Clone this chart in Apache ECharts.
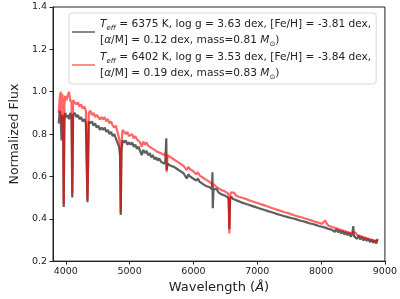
<!DOCTYPE html>
<html>
<head>
<meta charset="utf-8">
<script src="https://cdn.jsdelivr.net/npm/echarts@6/dist/echarts.min.js"></script>
<style>
  html, body { margin: 0; padding: 0; background: #fff; }
  #chart { width: 400px; height: 299px; }
</style>
</head>
<body>
<div id="chart"></div>
<script>
// wavelength grid (Angstrom), shared by both spectra
var wavelength = [
  3890, 3905, 3920, 3934, 3945, 3958, 3968, 3978, 3990,
  4010, 4030, 4050, 4070, 4090, 4102, 4115, 4140, 4165, 4190, 4215, 4240, 4265, 4290, 4315, 4340, 4360, 4385, 4410, 4435, 4460, 4485,
  4510, 4535, 4560, 4585, 4610, 4635, 4660, 4685, 4710, 4735, 4760, 4785, 4810, 4835, 4850, 4861, 4872, 4890, 4915, 4940, 4965, 4990,
  5015, 5040, 5065, 5090, 5115, 5140, 5165, 5190, 5215, 5240, 5265, 5290, 5315, 5340, 5365, 5390, 5415, 5440, 5465, 5490,
  5515, 5540, 5560, 5575, 5580, 5595, 5620, 5645, 5670, 5695, 5720, 5745, 5770, 5795, 5820, 5845, 5870, 5895, 5920, 5945, 5970, 5995,
  6020, 6045, 6070, 6095, 6120, 6145, 6170, 6195, 6220, 6245, 6270, 6290, 6298, 6303, 6315, 6340, 6365, 6390, 6415, 6440, 6465, 6490, 6515, 6540, 6552, 6563, 6574, 6590,
  6615, 6640, 6665, 6690, 6715, 6740, 6765, 6790, 6815, 6840, 6865, 6890, 6915, 6940, 6965, 6990, 7015, 7040, 7065, 7090, 7115, 7140, 7165, 7190, 7215, 7240, 7265, 7290, 7315, 7340, 7365, 7390, 7415, 7440, 7465, 7490,
  7515, 7540, 7565, 7590, 7615, 7640, 7665, 7690, 7715, 7740, 7765, 7790, 7815, 7840, 7865, 7890, 7915, 7940, 7965, 7990,
  8015, 8040, 8065, 8090, 8115, 8140, 8165, 8190, 8215, 8240, 8265, 8290, 8315, 8340, 8365, 8390, 8415, 8440, 8465, 8490,
  8505, 8515, 8540, 8565, 8590, 8615, 8640, 8665, 8690, 8715, 8740, 8765, 8790, 8815, 8840, 8865, 8885
];

// Teff = 6375 K spectrum (grey)
var fluxGrey = [
  0.85, 0.91, 0.88, 0.77, 0.89, 0.86, 0.455, 0.86, 0.90,
  0.88, 0.89, 0.87, 0.90, 0.88, 0.50, 0.89, 0.90, 0.88, 0.89, 0.87, 0.88, 0.86, 0.87, 0.85, 0.478, 0.86, 0.85, 0.86, 0.84, 0.85, 0.83,
  0.84, 0.82, 0.83, 0.82, 0.83, 0.81, 0.82, 0.80, 0.81, 0.79, 0.80, 0.78, 0.76, 0.74, 0.70, 0.418, 0.72, 0.77, 0.76, 0.77, 0.75, 0.76,
  0.75, 0.76, 0.74, 0.75, 0.73, 0.74, 0.72, 0.70, 0.725, 0.71, 0.72, 0.70, 0.71, 0.69, 0.70, 0.68, 0.69, 0.675, 0.685, 0.67,
  0.675, 0.66, 0.67, 0.78, 0.63, 0.66, 0.665, 0.65, 0.655, 0.645, 0.65, 0.635, 0.64, 0.625, 0.63, 0.615, 0.62, 0.59, 0.61, 0.60, 0.605, 0.59,
  0.595, 0.58, 0.59, 0.575, 0.58, 0.565, 0.57, 0.555, 0.56, 0.55, 0.555, 0.54, 0.62, 0.45, 0.54, 0.535, 0.54, 0.525, 0.53, 0.515, 0.52, 0.51, 0.515, 0.50, 0.49, 0.35, 0.49, 0.505,
  0.495, 0.50, 0.488, 0.493, 0.482, 0.488, 0.476, 0.483, 0.471, 0.478, 0.466, 0.472, 0.461, 0.467, 0.456, 0.462, 0.451, 0.457, 0.446, 0.452, 0.441, 0.447, 0.436, 0.442, 0.432, 0.437, 0.427, 0.433, 0.422, 0.428, 0.418, 0.423, 0.413, 0.419, 0.409, 0.414,
  0.405, 0.412, 0.401, 0.407, 0.397, 0.403, 0.392, 0.399, 0.388, 0.394, 0.384, 0.39, 0.379, 0.386, 0.375, 0.381, 0.371, 0.377, 0.366, 0.372,
  0.362, 0.368, 0.358, 0.364, 0.352, 0.36, 0.349, 0.355, 0.338, 0.352, 0.336, 0.346, 0.33, 0.343, 0.325, 0.338, 0.322, 0.335, 0.315, 0.33,
  0.365, 0.318, 0.326, 0.305, 0.322, 0.302, 0.316, 0.297, 0.31, 0.295, 0.306, 0.29, 0.302, 0.286, 0.298, 0.283, 0.305
];

// Teff = 6402 K spectrum (red)
var fluxRed = [
  0.90, 0.97, 1.00, 0.85, 0.99, 0.95, 0.47, 0.93, 0.98,
  0.96, 0.98, 1.00, 0.96, 0.95, 0.52, 0.96, 0.95, 0.94, 0.95, 0.93, 0.94, 0.92, 0.93, 0.91, 0.49, 0.90, 0.91, 0.89, 0.90, 0.88, 0.89,
  0.89, 0.87, 0.88, 0.87, 0.88, 0.86, 0.87, 0.85, 0.86, 0.84, 0.83, 0.84, 0.81, 0.78, 0.74, 0.43, 0.76, 0.82, 0.81, 0.80, 0.81, 0.79,
  0.79, 0.80, 0.78, 0.79, 0.775, 0.78, 0.76, 0.74, 0.765, 0.75, 0.76, 0.745, 0.75, 0.735, 0.74, 0.725, 0.73, 0.715, 0.72, 0.71,
  0.715, 0.70, 0.71, 0.70, 0.62, 0.70, 0.705, 0.69, 0.695, 0.68, 0.685, 0.67, 0.675, 0.66, 0.665, 0.65, 0.655, 0.63, 0.645, 0.635, 0.64, 0.625,
  0.625, 0.61, 0.62, 0.605, 0.61, 0.595, 0.60, 0.585, 0.59, 0.575, 0.58, 0.565, 0.57, 0.55, 0.565, 0.555, 0.56, 0.545, 0.55, 0.535, 0.54, 0.53, 0.535, 0.52, 0.51, 0.33, 0.51, 0.525,
  0.518, 0.522, 0.51, 0.516, 0.503, 0.51, 0.499, 0.505, 0.494, 0.50, 0.488, 0.494, 0.483, 0.49, 0.478, 0.484, 0.473, 0.479, 0.468, 0.474, 0.463, 0.469, 0.458, 0.464, 0.452, 0.458, 0.447, 0.453, 0.442, 0.448, 0.437, 0.443, 0.432, 0.438, 0.428, 0.433,
  0.423, 0.43, 0.418, 0.425, 0.413, 0.42, 0.409, 0.416, 0.405, 0.41, 0.40, 0.406, 0.395, 0.401, 0.39, 0.396, 0.385, 0.391, 0.381, 0.387,
  0.376, 0.382, 0.392, 0.377, 0.367, 0.373, 0.362, 0.368, 0.357, 0.363, 0.352, 0.358, 0.347, 0.353, 0.342, 0.348, 0.337, 0.343, 0.332, 0.338,
  0.336, 0.328, 0.334, 0.323, 0.329, 0.318, 0.324, 0.313, 0.319, 0.308, 0.314, 0.303, 0.309, 0.299, 0.305, 0.294, 0.30
];

var xTicks = [4000, 5000, 6000, 7000, 8000, 9000];

var labelGrey = '{i|T}{sub|eff} = 6375 K, log g = 3.63 dex, [Fe/H] = -3.81 dex,\n[{i|α}/M] = 0.12 dex, mass=0.81 {i|M}{sub|⊙})';
var labelRed = '{i|T}{sub|eff} = 6402 K, log g = 3.53 dex, [Fe/H] = -3.84 dex,\n[{i|α}/M] = 0.19 dex, mass=0.83 {i|M}{sub|⊙})';

function pairs(ys) {
  var out = [];
  for (var i = 0; i < wavelength.length; i++) {
    out.push([wavelength[i], ys[i]]);
  }
  return out;
}

var font = 'DejaVu Sans';
var chart = echarts.init(document.getElementById('chart'), null, {renderer: 'canvas'});

var option = {
  animation: false,
  grid: {
    left: 42, right: 15, top: 7, bottom: 36,
    show: true, borderColor: '#222', borderWidth: 1, backgroundColor: 'transparent'
  },
  legend: {
    left: 69, top: 13,
    orient: 'vertical',
    itemWidth: 23, itemHeight: 1.5,
    itemGap: 1,
    padding: [3, 5, 3, 3],
    backgroundColor: '#fff',
    borderColor: '#d8d8d8', borderWidth: 1, borderRadius: 3,
    icon: 'rect',
    selectedMode: false,
    data: ['grey', 'red'],
    formatter: function (name) {
      return name === 'grey' ? labelGrey : labelRed;
    },
    textStyle: {
      fontFamily: font, fontSize: 10.6, color: '#222', lineHeight: 16,
      rich: {
        i: {fontFamily: font, fontSize: 10.6, fontStyle: 'italic', color: '#222', lineHeight: 16},
        sub: {fontFamily: font, fontSize: 7, fontStyle: 'italic', color: '#222', lineHeight: 9, verticalAlign: 'bottom'}
      }
    }
  },
  xAxis: {
    type: 'value',
    min: 3800, max: 9000,
    name: 'Wavelength ({i|Å})',
    nameLocation: 'middle',
    nameGap: 16,
    nameTextStyle: {
      fontFamily: font, fontSize: 13, color: '#222',
      rich: {i: {fontFamily: font, fontSize: 13, fontStyle: 'italic', color: '#222'}}
    },
    axisLine: {show: true, lineStyle: {color: '#222', width: 1}},
    axisTick: {show: true, inside: false, length: 3.5, lineStyle: {color: '#222'}, customValues: xTicks},
    axisLabel: {
      fontFamily: font, fontSize: 9.5, color: '#222', margin: 5, customValues: xTicks,
      formatter: function (v) { return String(v); }
    },
    splitLine: {show: false}
  },
  yAxis: {
    type: 'value',
    min: 0.2, max: 1.4, interval: 0.2,
    name: 'Normalized Flux',
    nameLocation: 'middle',
    nameGap: 27,
    nameTextStyle: {fontFamily: font, fontSize: 12.5, color: '#222'},
    axisLine: {show: true, lineStyle: {color: '#222', width: 1}},
    axisTick: {show: true, inside: false, length: 3.5, lineStyle: {color: '#222'}},
    axisLabel: {
      fontFamily: font, fontSize: 9.5, color: '#222', margin: 6,
      formatter: function (v) { return v.toFixed(1); }
    },
    splitLine: {show: false}
  },
  series: [
    {
      name: 'grey',
      type: 'line',
      data: pairs(fluxGrey),
      showSymbol: false,
      symbol: 'none',
      color: 'rgba(40,40,40,0.75)',
      lineStyle: {color: 'rgba(40,40,40,0.75)', width: 2.2},
      emphasis: {disabled: true},
      z: 2
    },
    {
      name: 'red',
      type: 'line',
      data: pairs(fluxRed),
      showSymbol: false,
      symbol: 'none',
      color: 'rgba(255,0,0,0.6)',
      lineStyle: {color: 'rgba(255,0,0,0.6)', width: 2.2},
      emphasis: {disabled: true},
      z: 3
    }
  ]
};

chart.setOption(option);
</script>
</body>
</html>
